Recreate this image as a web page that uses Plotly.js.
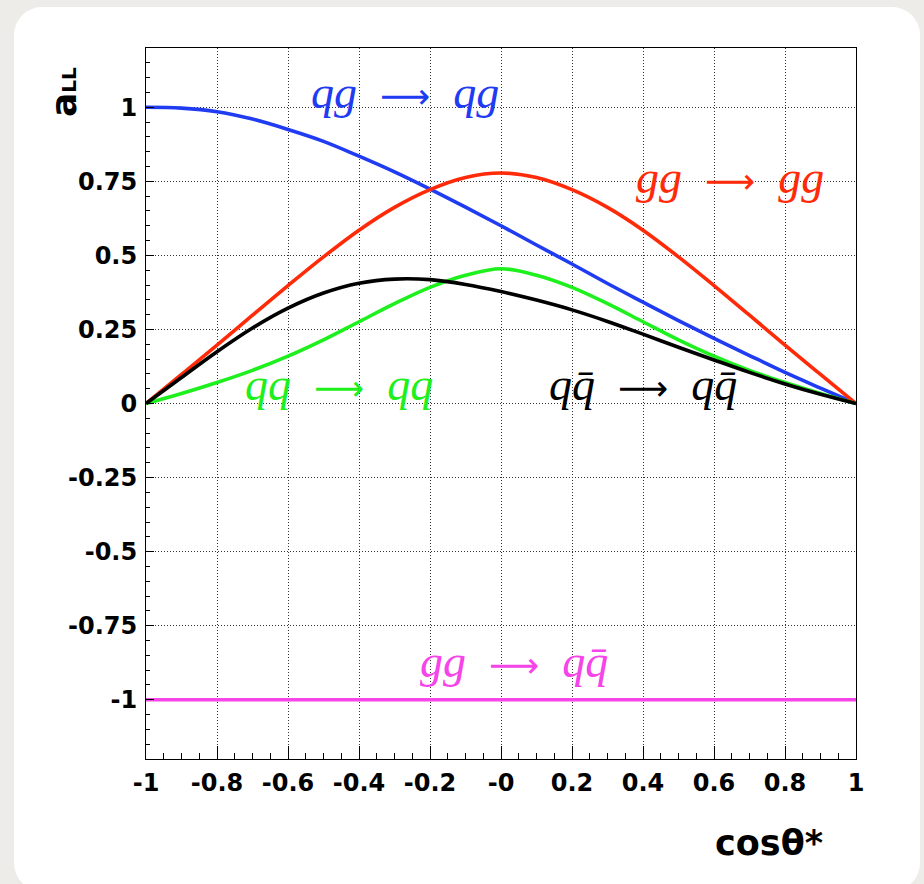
<!DOCTYPE html>
<html>
<head>
<meta charset="utf-8">
<script src="https://cdn.plot.ly/plotly-3.0.1.min.js"></script>
<style>
  html, body { margin: 0; padding: 0; }
  body { width: 924px; height: 884px; background: #eeece9; position: relative; overflow: hidden; }
  #card { position: absolute; left: 14px; top: 7px; width: 906px; height: 884px; background: #ffffff; border-radius: 28px; }
  #chart { position: absolute; left: 0; top: 0; width: 924px; height: 884px; }
</style>
</head>
<body>
<div id="card"></div>
<div id="chart"></div>
<script>
// cos(theta*) sampling points
const cosTheta = [-1, -0.9, -0.8, -0.7, -0.6, -0.5, -0.4, -0.3, -0.2, -0.1, 0,
                  0.1, 0.2, 0.3, 0.4, 0.5, 0.6, 0.7, 0.8, 0.9, 1];

// partonic double-spin asymmetries a_LL
const aQG_QG   = [1.00, 0.997, 0.985, 0.96, 0.925, 0.885, 0.835, 0.782, 0.724, 0.663, 0.60,
                  0.535, 0.471, 0.405, 0.342, 0.28, 0.22, 0.162, 0.105, 0.052, 0];
const aGG_GG   = [0, 0.098, 0.197, 0.298, 0.398, 0.495, 0.585, 0.662, 0.722, 0.763, 0.778,
                  0.763, 0.722, 0.662, 0.585, 0.495, 0.398, 0.298, 0.197, 0.098, 0];
const aQQ_QQ   = [0, 0.034, 0.071, 0.112, 0.160, 0.215, 0.276, 0.337, 0.392, 0.433, 0.455,
                  0.433, 0.392, 0.337, 0.276, 0.215, 0.160, 0.112, 0.071, 0.034, 0];
const aQQB_QQB = [0, 0.088, 0.175, 0.255, 0.322, 0.373, 0.406, 0.42, 0.418, 0.402, 0.378,
                  0.349, 0.316, 0.277, 0.234, 0.19, 0.147, 0.105, 0.066, 0.031, 0];
const aGG_QQB  = [-1, -1, -1, -1, -1, -1, -1, -1, -1, -1, -1,
                  -1, -1, -1, -1, -1, -1, -1, -1, -1, -1];

// axis ticks
const xTickVals = [-1, -0.8, -0.6, -0.4, -0.2, 0, 0.2, 0.4, 0.6, 0.8, 1];
const xTickText = ['-1', '-0.8', '-0.6', '-0.4', '-0.2', '-0', '0.2', '0.4', '0.6', '0.8', '1'];
const yTickVals = [1, 0.75, 0.5, 0.25, 0, -0.25, -0.5, -0.75, -1];
const yTickText = ['1', '0.75', '0.5', '0.25', '0', '-0.25', '-0.5', '-0.75', '-1'];

// process labels (long arrow between initial and final state)
const ARROW = '\u00a0\u00a0<span style="font-family:\'DejaVu Sans\';font-size:35px">\u27f6</span>\u00a0\u00a0';
const procNames  = ['<i>qg</i>' + ARROW + '<i>qg</i>',
                    '<i>gg</i>' + ARROW + '<i>gg</i>',
                    '<i>qq</i>' + ARROW + '<i>qq</i>',
                    '<i>qq\u0304</i>' + ARROW + '<i>qq\u0304</i>',
                    '<i>gg</i>' + ARROW + '<i>qq\u0304</i>'];
const procColors = ['#1f3cf2', '#ff2a08', '#1ef01e', '#000000', '#f545e8'];
const labelX     = [-0.271, 0.646, -0.457, 0.400, 0.036];
const labelY     = [1.049, 0.762, 0.065, 0.065, -0.870];

const series = [aQG_QG, aGG_GG, aQQ_QQ, aQQB_QQB, aGG_QQB];

const traces = series.map((ys, i) => ({
  x: cosTheta, y: ys, type: 'scatter', mode: 'lines',
  line: { color: procColors[i], width: 3.6, shape: 'spline', smoothing: 1 },
  hoverinfo: 'skip', showlegend: false
}));

const tickFont = { family: 'DejaVu Sans', size: 24, weight: 'bold', color: '#000' };

const annotations = procNames.map((t, i) => ({
  x: labelX[i], y: labelY[i], xref: 'x', yref: 'y', text: t, showarrow: false,
  xanchor: 'center', yanchor: 'middle',
  font: { family: 'Liberation Serif', size: 46, color: procColors[i] }
}));

annotations.push({
  xref: 'paper', yref: 'paper', x: 0.877, y: -0.118, xanchor: 'center', yanchor: 'middle',
  text: 'cos\u03b8*', showarrow: false,
  font: { family: 'DejaVu Sans', size: 35, weight: 'bold', color: '#000' }
});
annotations.push({
  xref: 'paper', yref: 'paper', x: -0.117, y: 0.938, xanchor: 'center', yanchor: 'middle',
  textangle: -90, showarrow: false,
  text: 'a<span style="font-size:20px">LL</span>',
  font: { family: 'DejaVu Sans', size: 36, weight: 'bold', color: '#000' }
});

const layout = {
  width: 924, height: 884,
  margin: { l: 146, r: 68, t: 48, b: 125, pad: 0 },
  paper_bgcolor: 'rgba(0,0,0,0)', plot_bgcolor: '#ffffff',
  showlegend: false,
  xaxis: {
    range: [-1, 1], tickmode: 'array', tickvals: xTickVals, ticktext: xTickText,
    ticks: 'inside', ticklen: 13, tickwidth: 1, tickcolor: '#000',
    minor: { dtick: 0.05, tick0: -1, ticks: 'inside', ticklen: 6, tickcolor: '#000', showgrid: false },
    showgrid: true, gridcolor: '#333', griddash: '1px,2px', gridwidth: 1,
    zeroline: false, showline: true, linecolor: '#000', linewidth: 1, mirror: true,
    tickfont: tickFont, ticklabelstandoff: 2
  },
  yaxis: {
    range: [-1.2, 1.2], tickmode: 'array', tickvals: yTickVals, ticktext: yTickText,
    ticks: 'inside', ticklen: 8, tickwidth: 1, tickcolor: '#000',
    minor: { dtick: 0.05, tick0: 0, ticks: 'inside', ticklen: 4, tickcolor: '#000', showgrid: false },
    showgrid: true, gridcolor: '#333', griddash: '1px,2px', gridwidth: 1,
    zeroline: false, showline: true, linecolor: '#000', linewidth: 1, mirror: true,
    tickfont: tickFont, ticklabelstandoff: 3
  },
  annotations: annotations
};

Plotly.newPlot('chart', traces, layout, { displayModeBar: false, staticPlot: true });
</script>
</body>
</html>
